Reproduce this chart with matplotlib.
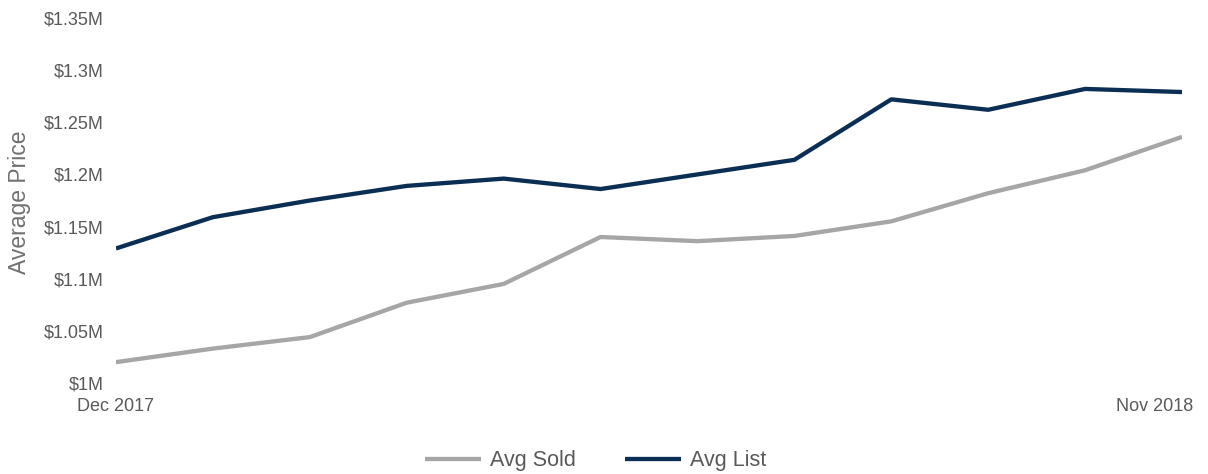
import numpy as np
import matplotlib.pyplot as plt
import matplotlib.transforms as mtransforms
from matplotlib.ticker import FuncFormatter

plt.rcParams['font.family'] = ['Liberation Sans', 'DejaVu Sans']

months = ['Dec 2017', 'Jan 2018', 'Feb 2018', 'Mar 2018', 'Apr 2018', 'May 2018',
          'Jun 2018', 'Jul 2018', 'Aug 2018', 'Sep 2018', 'Oct 2018', 'Nov 2018']
avg_sold = [1.020, 1.033, 1.044, 1.077, 1.095, 1.140, 1.136, 1.141, 1.155, 1.182, 1.204, 1.236]
avg_list = [1.129, 1.159, 1.175, 1.189, 1.196, 1.186, 1.200, 1.214, 1.272, 1.262, 1.282, 1.279]
y_ticks = [1.0, 1.05, 1.1, 1.15, 1.2, 1.25, 1.3, 1.35]

text_color = '#595959'

fig = plt.figure(figsize=(12.08, 4.74), dpi=100)
ax = fig.add_axes([0.096, 0.192, 0.8825, 0.77])

x = np.arange(len(months))
ax.plot(x, avg_sold, color='#a6a6a6', lw=3.1, label='Avg Sold', solid_capstyle='butt')
ax.plot(x, avg_list, color='#0b2e55', lw=3.1, label='Avg List', solid_capstyle='butt')

ax.set_xlim(0, len(months) - 1)
ax.set_ylim(1.0, 1.35)
ax.set_yticks(y_ticks)


def fmt(v, pos):
    s = f'{v:.2f}'.rstrip('0').rstrip('.')
    return f'${s}M'


ax.yaxis.set_major_formatter(FuncFormatter(fmt))
ax.set_xticks([0, len(months) - 1])
ax.set_xticklabels([months[0], months[-1]])

for s in ax.spines.values():
    s.set_visible(False)
ax.tick_params(length=0, labelsize=13, colors=text_color)
ax.tick_params(axis='y', pad=9)
ax.tick_params(axis='x', pad=11)

# nudge the last x label inward like the original
lab = ax.get_xticklabels()[-1]
lab.set_transform(lab.get_transform() + mtransforms.ScaledTranslation(-0.27, 0, fig.dpi_scale_trans))

ax.set_ylabel('Average Price', fontsize=16.5, color='#707070')
ax.yaxis.set_label_coords(-0.08, 0.496)

leg = fig.legend(loc='lower center', bbox_to_anchor=(0.493, -0.035), ncol=2, frameon=False,
                 fontsize=15.5, handlelength=2.6, columnspacing=2.3, handletextpad=0.4)
for t in leg.get_texts():
    t.set_color(text_color)

plt.savefig('out.png', dpi=100)
